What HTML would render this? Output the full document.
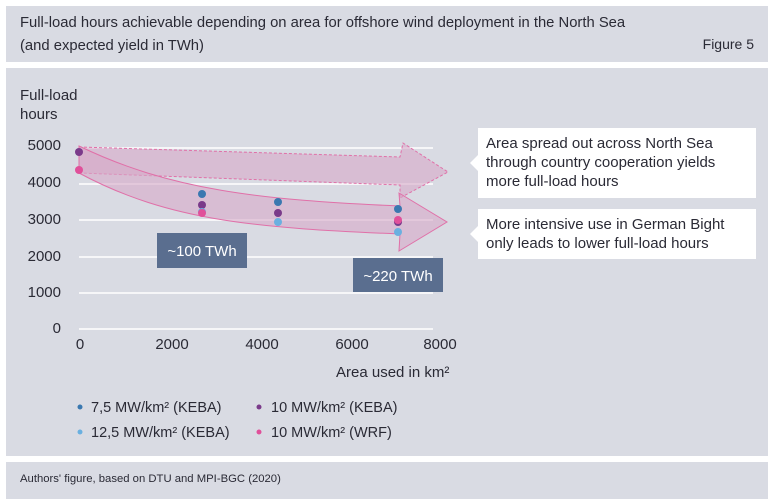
<!DOCTYPE html>
<html><head><meta charset="utf-8"><style>
body{margin:0;width:768px;height:499px;background:#fff;font-family:"Liberation Sans",sans-serif;color:#2a2a35;position:relative;overflow:hidden}
.p{position:absolute;background:#d9dbe3}
.t{position:absolute;white-space:nowrap}
</style></head><body>
<div class="p" style="left:6px;top:6px;width:762px;height:56px"></div>
<div class="t" style="left:20px;top:12px;font-size:14.8px;line-height:23px">Full-load hours achievable depending on area for offshore wind deployment in the North Sea<br>(and expected yield in TWh)</div>
<div class="t" style="right:14px;top:36px;font-size:14px">Figure 5</div>
<div class="p" style="left:6px;top:68px;width:762px;height:388px"></div>
<div class="p" style="left:6px;top:462px;width:762px;height:37px"></div>
<div class="t" style="left:20px;top:473px;font-size:11.3px">Authors' figure, based on DTU and MPI-BGC (2020)</div>
<svg style="position:absolute;left:0;top:0" width="768" height="499">
<g stroke="#fff" stroke-width="1.5">
<line x1="79" x2="433" y1="148" y2="148"/><line x1="79" x2="433" y1="184" y2="184"/><line x1="79" x2="433" y1="220" y2="220"/><line x1="79" x2="433" y1="257" y2="257"/><line x1="79" x2="433" y1="293" y2="293"/><line x1="79" x2="433" y1="329" y2="329"/>
</g>
<g font-size="15" fill="#2a2a35" text-anchor="end">
<text x="61" y="150">5000</text><text x="61" y="187">4000</text><text x="61" y="224">3000</text><text x="61" y="261">2000</text><text x="61" y="297">1000</text><text x="61" y="333">0</text>
</g>
<g font-size="15" fill="#2a2a35" text-anchor="middle">
<text x="80" y="349">0</text><text x="172" y="349">2000</text><text x="262" y="349">4000</text><text x="352" y="349">6000</text><text x="440" y="349">8000</text>
</g>
<text x="20" y="100" font-size="15" fill="#2a2a35">Full-load</text>
<text x="20" y="119" font-size="15" fill="#2a2a35">hours</text>
<text x="336" y="377" font-size="15" fill="#2a2a35">Area used in km²</text>
<path d="M79,147 L400,157 L403,143 L448,172 L400,198 L400,185 L79,173 Z" fill="#d7a8c8" fill-opacity="0.6" stroke="#e070a8" stroke-dasharray="3,2"/>
<path d="M79,146 C170,190 260,200 400,206 L399,193 L447,222 L399,251 L400,234 C260,228 170,222 79,173 Z" fill="#d7a8c8" fill-opacity="0.6" stroke="#e070a8"/>
<g>
<circle cx="79" cy="152" r="4" fill="#7a3a8a"/><circle cx="79" cy="170" r="4" fill="#e0509a"/>
<circle cx="202" cy="194" r="4" fill="#3a78b0"/><circle cx="202" cy="205" r="4" fill="#7a3a8a"/><circle cx="202" cy="212" r="4" fill="#6ab0e0"/><circle cx="202" cy="213" r="4" fill="#e0509a"/>
<circle cx="278" cy="202" r="4" fill="#3a78b0"/><circle cx="278" cy="213" r="4" fill="#7a3a8a"/><circle cx="278" cy="222" r="4" fill="#6ab0e0"/>
<circle cx="398" cy="209" r="4" fill="#3a78b0"/><circle cx="398" cy="222" r="4" fill="#7a3a8a"/><circle cx="398" cy="220" r="4" fill="#e0509a"/><circle cx="398" cy="232" r="4" fill="#6ab0e0"/>
</g>
<rect x="157" y="233" width="90" height="35" fill="#5a6e8f"/>
<text x="202" y="256" font-size="15" fill="#fff" text-anchor="middle">~100 TWh</text>
<rect x="353" y="258" width="90" height="34" fill="#5a6e8f"/>
<text x="398" y="281" font-size="15" fill="#fff" text-anchor="middle">~220 TWh</text>
<rect x="478" y="128" width="278" height="70" fill="#fff"/><path d="M478,155 L470,163 L478,171Z" fill="#fff"/>
<rect x="478" y="209" width="278" height="50" fill="#fff"/><path d="M478,226 L470,234 L478,242Z" fill="#fff"/>
<g font-size="15" fill="#2a2a35">
<text x="486" y="148">Area spread out across North Sea</text>
<text x="486" y="167">through country cooperation yields</text>
<text x="486" y="186">more full-load hours</text>
<text x="486" y="229">More intensive use in German Bight</text>
<text x="486" y="248">only leads to lower full-load hours</text>
</g>
<circle cx="80" cy="407" r="2.5" fill="#3a78b0"/><circle cx="259" cy="407" r="2.5" fill="#7a3a8a"/>
<circle cx="80" cy="432" r="2.5" fill="#6ab0e0"/><circle cx="259" cy="432" r="2.5" fill="#e0509a"/>
<g font-size="14.5" fill="#2a2a35">
<text x="91" y="412">7,5 MW/km² (KEBA)</text><text x="271" y="412">10 MW/km² (KEBA)</text>
<text x="91" y="437">12,5 MW/km² (KEBA)</text><text x="271" y="437">10 MW/km² (WRF)</text>
</g>
</svg>
</body></html>
